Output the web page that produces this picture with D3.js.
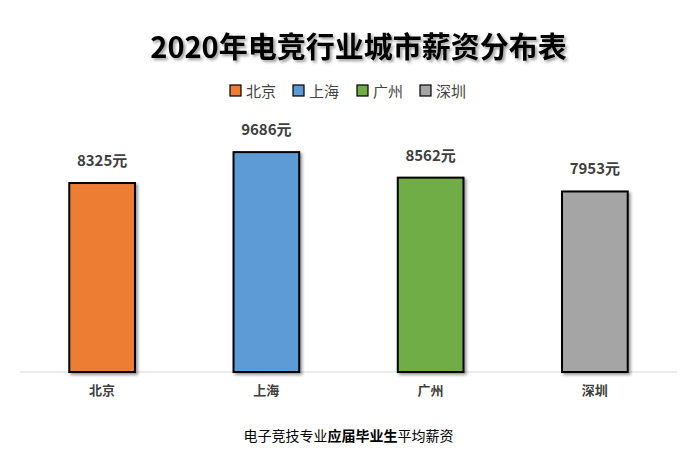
<!DOCTYPE html>
<html><head><meta charset="utf-8">
<script src="https://cdn.jsdelivr.net/npm/d3@7"></script>
<style>body{margin:0;background:#fff}</style>
</head><body>
<script>
const cities = ["北京", "上海", "广州", "深圳"];
const salaries = [8325, 9686, 8562, 7953];
const colors = ["#ed7d31", "#5b9bd5", "#70ad47", "#a5a5a5"];

const W = 697, H = 460;
const font = "'Noto Sans CJK SC', sans-serif";
const svg = d3.select("body").append("svg").attr("width", W).attr("height", H);

const defs = svg.append("defs");
const f = defs.append("filter").attr("id", "sh").attr("x", "-20%").attr("y", "-20%").attr("width", "150%").attr("height", "150%");
f.append("feDropShadow").attr("dx", 2).attr("dy", 2).attr("stdDeviation", 1.5).attr("flood-color", "#000").attr("flood-opacity", 0.4);

const x = d3.scaleBand().domain(cities).range([20, 677]).paddingInner(0.6).paddingOuter(0.3);
const y = d3.scaleLinear().domain([0, 10000]).range([372, 145]);

svg.append("text").attr("x", W / 2 + 10).attr("y", 58).attr("text-anchor", "middle")
  .attr("font-family", font).attr("font-weight", "bold").attr("font-size", 29)
  .attr("filter", "url(#sh)").text("2020年电竞行业城市薪资分布表");

// legend
const lg = svg.append("g").attr("font-family", font).attr("font-size", 15).attr("fill", "#444");
const lx = [230, 293, 357, 420];
cities.forEach((c, i) => {
  lg.append("rect").attr("x", lx[i]).attr("y", 85).attr("width", 11).attr("height", 11)
    .attr("fill", colors[i]).attr("stroke", "#000").attr("stroke-width", 1.2);
  lg.append("text").attr("x", lx[i] + 16).attr("y", 97).text(c);
});

svg.append("line").attr("x1", 20).attr("x2", 677).attr("y1", y(0)).attr("y2", y(0))
  .attr("stroke", "#d9d9d9");

svg.selectAll(".bar").data(salaries).join("rect")
  .attr("x", (d, i) => x(cities[i])).attr("y", d => y(d))
  .attr("width", x.bandwidth()).attr("height", d => y(0) - y(d))
  .attr("fill", (d, i) => colors[i]).attr("stroke", "#000").attr("stroke-width", 2)
  .attr("filter", "url(#sh)");

svg.selectAll(".lbl").data(salaries).join("text")
  .attr("x", (d, i) => x(cities[i]) + x.bandwidth() / 2).attr("y", d => y(d) - 17)
  .attr("text-anchor", "middle").attr("font-family", font).attr("font-weight", "bold")
  .attr("font-size", 15).attr("fill", "#404040").text(d => d + "元");

svg.selectAll(".cat").data(cities).join("text")
  .attr("x", d => x(d) + x.bandwidth() / 2).attr("y", 395)
  .attr("text-anchor", "middle").attr("font-family", font).attr("font-weight", "bold")
  .attr("font-size", 13).attr("fill", "#404040").text(d => d);

const ft = svg.append("text").attr("x", W / 2).attr("y", 441).attr("text-anchor", "middle")
  .attr("font-family", font).attr("font-size", 14).attr("fill", "#000");
ft.append("tspan").text("电子竞技专业");
ft.append("tspan").attr("font-weight", "bold").text("应届毕业生");
ft.append("tspan").text("平均薪资");
</script>
</body></html>
